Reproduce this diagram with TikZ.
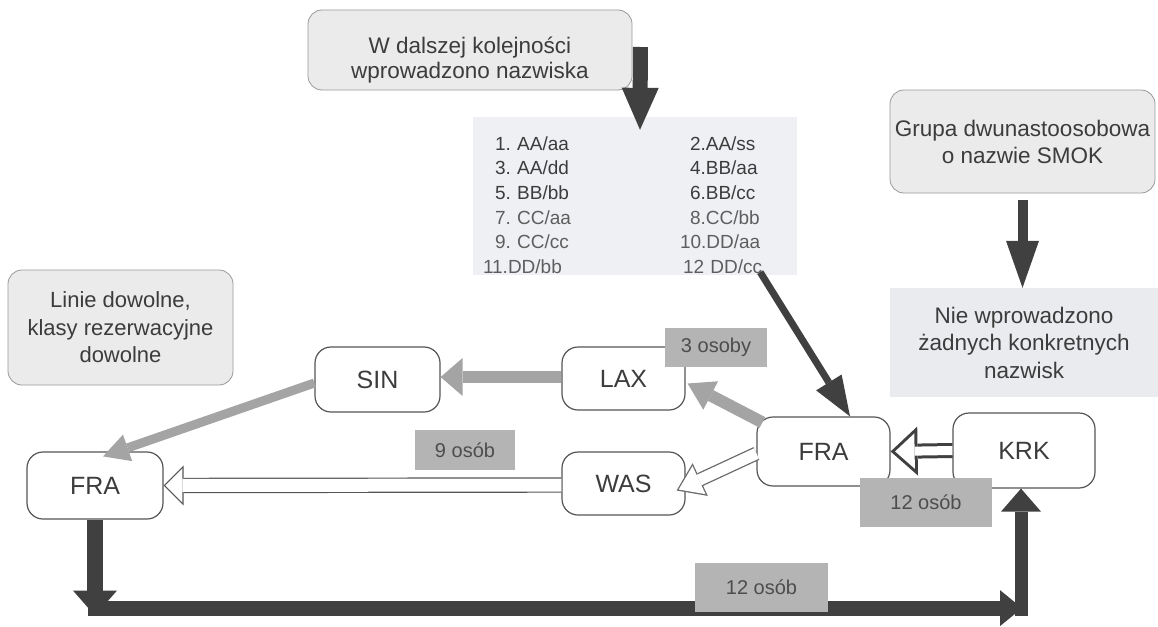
\documentclass[tikz,border=0pt]{standalone}
\usepackage{fontspec}
\setmainfont{Liberation Sans}
\usetikzlibrary{arrows.meta,calc}
\frenchspacing
\definecolor{darkarr}{HTML}{404040}
\definecolor{grayarr}{HTML}{A4A4A4}
\definecolor{hollowgray}{HTML}{6A6A6A}
\definecolor{labelfill}{HTML}{B4B4B4}
\definecolor{labeltext}{HTML}{4D4D4D}
\definecolor{textcol}{HTML}{3C3C3C}
\definecolor{rowlight}{HTML}{5E5E5E}
\definecolor{infofill}{HTML}{EBEBEB}
\definecolor{infoborder}{HTML}{9A9A9A}
\definecolor{namesfill}{HTML}{EEF0F3}
\definecolor{niefill}{HTML}{E9EBEE}
\definecolor{routeborder}{HTML}{555555}
\begin{document}
\begin{tikzpicture}[x=1pt,y=-1pt,
  routebox/.style={draw=routeborder,line width=1.2pt,fill=white,rounded corners=16pt,
    inner sep=0pt,text=textcol,font=\fontsize{25}{30}\selectfont},
  infobox/.style={draw=infoborder,line width=0.8pt,fill=infofill,rounded corners=14pt,
    align=center,inner sep=0pt,text=textcol,font=\fontsize{22.5}{27}\selectfont},
  plainbox/.style={inner sep=0pt,align=center,text=textcol},
  countlabel/.style={fill=labelfill,inner sep=0pt,text=labeltext,font=\fontsize{20}{24}\selectfont},
  darkarrow/.style={draw=darkarr,fill=darkarr},
  grayarrow/.style={draw=grayarr,fill=grayarr},
]
\fill[white] (0,0) rectangle (1158,626);
\useasboundingbox (0,0) rectangle (1158,626);

% info boxes
\node[infobox,minimum width=324pt,minimum height=80pt,font=\fontsize{22.5}{25}\selectfont] (top) at (470,50)
  {\rule{0pt}{36pt}W dalszej kolejności\\wprowadzono nazwiska};
\node[plainbox,fill=namesfill,minimum width=324pt,minimum height=158pt,text width=280pt,
  inner xsep=22pt,inner ysep=0pt,align=left,font=\fontsize{19}{24.7}\selectfont] (names) at (635,196)
  {\rule{0pt}{32pt}\makebox[195pt][l]{1. AA/aa}2.AA/ss\\
   \makebox[195pt][l]{3. AA/dd}4.BB/aa\\
   \makebox[195pt][l]{5. BB/bb}6.BB/cc\\
   \textcolor{rowlight}{\makebox[195pt][l]{7. CC/aa}8.CC/bb}\\
   \textcolor{rowlight}{\makebox[195pt][l]{9. CC/cc}\hspace*{-10pt}10.DD/aa}\\
   \textcolor{rowlight}{\hspace*{-12pt}\makebox[207pt][l]{11.DD/bb}\hspace*{-7pt}12 DD/cc}};
\node[infobox,minimum width=265pt,minimum height=103pt] (grupa) at (1022.5,141.5)
  {Grupa dwunastoosobowa\\o nazwie SMOK};
\node[plainbox,fill=niefill,minimum width=268pt,minimum height=109pt,
  font=\fontsize{22.5}{27.5}\selectfont] (nie) at (1024,342.5)
  {Nie wprowadzono\\żadnych konkretnych\\nazwisk};
\node[infobox,minimum width=225pt,minimum height=115pt,font=\fontsize{22}{27.5}\selectfont] (linie) at (120.5,327.5)
  {Linie dowolne,\\klasy rezerwacyjne\\dowolne};

% route boxes
\node[routebox,minimum width=125pt,minimum height=65pt] (sin) at (377.5,379.5) {SIN};
\node[routebox,minimum width=123pt,minimum height=63pt] (lax) at (623.5,378.5) {LAX};
\node[routebox,minimum width=123pt,minimum height=63pt] (was) at (623.5,483.5) {WAS};
\node[routebox,minimum width=133pt,minimum height=69pt] (fraR) at (823.5,451.5) {FRA};
\node[routebox,minimum width=142pt,minimum height=75pt] (krk) at (1024,450.5) {KRK};
\node[routebox,minimum width=136pt,minimum height=67pt] (fraL) at (95,485.5) {FRA};

% dark arrows
\draw[darkarrow,line width=15pt,-{Triangle[width=37pt,length=42pt,line width=0pt]}]
  ($(top.east)+(8,-3)$) -- ($(names.north)+(5,13)$);
\draw[darkarrow,line width=10pt,shorten <=7pt,-{Triangle[width=33pt,length=47pt,line width=0pt]}]
  (grupa.south) -- (grupa.south |- nie.north);
\draw[darkarrow,line width=7pt,-{Triangle[width=30pt,length=40pt,line width=0pt]}]
  ($(names.south east)+(-37,-3)$) -- ($(fraR.north)+(26.5,0)$);

% gray arrows
\draw[grayarrow,line width=12pt,-{Triangle[width=38pt,length=22pt,line width=0pt]}]
  ($(lax.west)+(0,-1.5)$) -- ($(sin.east)+(0,-2.5)$);
\draw[grayarrow,line width=12pt,-{Triangle[width=32pt,length=26pt,line width=0pt]}]
  ($(fraR.north west)+(6,6)$) -- ($(lax.east)+(2,5)$);
\draw[grayarrow,line width=9pt,-{Triangle[width=28pt,length=26pt,line width=0pt]}]
  ($(sin.west)+(0,3.5)$) -- ($(fraL.north)+(8,5)$);

% hollow arrow KRK -> FRA
\draw[draw=darkarr,fill=darkarr,line width=15pt,-{Triangle[width=49pt,length=27pt,line width=0pt]}]
  (krk.west) -- (fraR.east);
\draw[draw=white,fill=white,line width=9pt,shorten >=4.5pt,-{Triangle[width=35.4pt,length=19.5pt,line width=0pt]}]
  (krk.west) -- (fraR.east);

% hollow arrow FRA -> WAS
\draw[draw=hollowgray,fill=hollowgray,line width=14pt,-{Triangle[width=36pt,length=26pt,line width=0pt]}]
  ($(fraR.west)+(0,2)$) -- ($(was.east)+(-9,7)$);
\draw[draw=white,fill=white,line width=11.4pt,shorten >=2.3pt,-{Triangle[width=31pt,length=22.4pt,line width=0pt]}]
  ($(fraR.west)+(0,2)$) -- ($(was.east)+(-9,7)$);

% hollow arrow WAS -> FRA (left)
\draw[draw=routeborder,fill=routeborder,line width=15.4pt,-{Triangle[width=40pt,length=20pt,line width=0pt]}]
  ($(was.west)+(0,1.5)$) -- ($(fraL.east)+(0,0)$);
\draw[draw=white,fill=white,line width=13pt,shorten >=1.7pt,-{Triangle[width=34.2pt,length=17.1pt,line width=0pt]}]
  ($(was.west)+(0,1.5)$) -- ($(fraL.east)+(0,0)$);

% bottom route FRA -> KRK
\coordinate (br) at ($(krk.south)+(-2,119.5)$);
\draw[darkarrow,line width=16pt,-{Triangle[width=44pt,length=25pt,line width=0pt]}]
  (fraL.south) -- ($(fraL.south)+(0,96)$);
\draw[darkarrow,line width=15pt,-{Triangle[width=36pt,length=22pt,line width=0pt]}]
  ($(fraL.south)+(-7,88.5)$) -- (br);
\draw[darkarrow,line width=13pt,-{Triangle[width=40pt,length=23pt,line width=0pt]}]
  ($(krk.south)+(-3,127)$) -- ($(krk.south)+(-3,0)$);

% count labels
\node[countlabel,minimum width=102pt,minimum height=39pt] (l3) at (716,347.5) {3 osoby};
\node[countlabel,minimum width=100pt,minimum height=40pt] (l9) at (465,450) {9 osób};
\node[countlabel,minimum width=132pt,minimum height=49pt] (l12a) at (926,502.5) {12 osób};
\node[countlabel,minimum width=133pt,minimum height=49pt] (l12b) at (761.5,587.5) {12 osób};
\end{tikzpicture}
\end{document}
